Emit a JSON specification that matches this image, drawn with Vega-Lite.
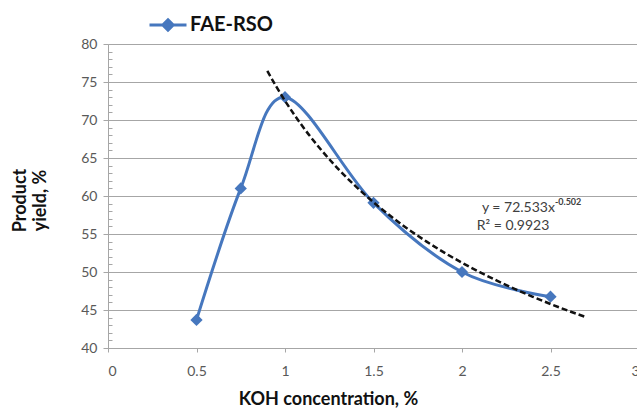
{
  "$schema": "https://vega.github.io/schema/vega-lite/v6.json",
  "width": 531,
  "height": 304,
  "autosize": {"type": "none"},
  "padding": {"left": 108, "top": 44, "right": 0, "bottom": 62},
  "background": "white",
  "config": {
    "font": "Lato",
    "view": {"stroke": null},
    "axis": {
      "domainColor": "#a6a6a6",
      "tickColor": "#a6a6a6",
      "labelColor": "#595959",
      "labelFontSize": 14,
      "titleColor": "#111111",
      "titleFontWeight": "bold"
    }
  },
  "resolve": {"axis": {"y": "independent"}},
  "datasets": {
    "yield": [
      {"koh": 0.5, "yield": 43.7, "series": "FAE-RSO"},
      {"koh": 0.75, "yield": 61.0, "series": "FAE-RSO"},
      {"koh": 1.0, "yield": 73.0, "series": "FAE-RSO"},
      {"koh": 1.5, "yield": 59.1, "series": "FAE-RSO"},
      {"koh": 2.0, "yield": 50.0, "series": "FAE-RSO"},
      {"koh": 2.5, "yield": 46.75, "series": "FAE-RSO"}
    ],
    "trend": [
      {"koh": 0.9, "fit": 76.47},
      {"koh": 0.95, "fit": 74.42},
      {"koh": 1.0, "fit": 72.53},
      {"koh": 1.1, "fit": 69.14},
      {"koh": 1.2, "fit": 66.19},
      {"koh": 1.3, "fit": 63.58},
      {"koh": 1.4, "fit": 61.26},
      {"koh": 1.5, "fit": 59.18},
      {"koh": 1.6, "fit": 57.29},
      {"koh": 1.7, "fit": 55.57},
      {"koh": 1.8, "fit": 54.0},
      {"koh": 1.9, "fit": 52.55},
      {"koh": 2.0, "fit": 51.22},
      {"koh": 2.1, "fit": 49.98},
      {"koh": 2.2, "fit": 48.83},
      {"koh": 2.3, "fit": 47.75},
      {"koh": 2.4, "fit": 46.74},
      {"koh": 2.5, "fit": 45.79},
      {"koh": 2.6, "fit": 44.9},
      {"koh": 2.7, "fit": 44.06}
    ],
    "note": [{"label": "fit"}]
  },
  "layer": [
    {
      "data": {"name": "yield"},
      "mark": {"type": "line", "interpolate": "cardinal", "strokeWidth": 3},
      "encoding": {
        "x": {
          "field": "koh",
          "type": "quantitative",
          "scale": {"domain": [0, 3], "nice": false},
          "axis": {
            "title": "KOH concentration, %",
            "titleFontSize": 18,
            "titleX": 220,
            "titleY": 51,
            "titleBaseline": "middle",
            "values": [0, 0.5, 1, 1.5, 2, 2.5, 3],
            "labelOverlap": false,
            "format": "~g",
            "grid": false,
            "tickSize": 4,
            "labelPadding": 12
          }
        },
        "y": {
          "field": "yield",
          "type": "quantitative",
          "scale": {"domain": [40, 80], "nice": false},
          "axis": {
            "title": ["Product", "yield, %"],
            "titleFontSize": 18,
            "titleLineHeight": 20,
            "titleAngle": -90,
            "titleX": -88,
            "titleY": 156,
            "titleAlign": "center",
            "titleBaseline": "middle",
            "values": [40, 45, 50, 55, 60, 65, 70, 75, 80],
            "format": "d",
            "tickSize": 5,
            "grid": true,
            "gridColor": "#a6a6a6",
            "gridWidth": 1,
            "gridOpacity": 1,
            "labelPadding": 6
          }
        },
        "color": {
          "field": "series",
          "type": "nominal",
          "scale": {"range": ["#4677be"]},
          "legend": {
            "title": null,
            "orient": "none",
            "legendX": 40,
            "legendY": -39,
            "symbolType": "M-1,0H1M0,-0.28L0.28,0L0,0.28L-0.28,0Z",
            "symbolSize": 1369,
            "symbolStrokeWidth": 3,
            "symbolFillColor": "#4677be",
            "symbolStrokeColor": "#4677be",
            "labelFontSize": 20,
            "labelFontWeight": "bold",
            "labelColor": "#111111",
            "labelOffset": 2
          }
        }
      }
    },
    {
      "data": {"name": "yield"},
      "mark": {"type": "point", "shape": "diamond", "filled": true, "size": 150, "color": "#4677be", "opacity": 1},
      "encoding": {
        "x": {"field": "koh", "type": "quantitative"},
        "y": {
          "field": "yield",
          "type": "quantitative",
          "axis": {
            "orient": "left",
            "title": null,
            "values": [40,41,42,43,44,45,46,47,48,49,50,51,52,53,54,55,56,57,58,59,60,61,62,63,64,65,66,67,68,69,70,71,72,73,74,75,76,77,78,79,80],
            "tickCount": 100,
            "labels": false,
            "domain": false,
            "grid": false,
            "tickSize": -4
          }
        }
      }
    },
    {
      "data": {"name": "trend"},
      "mark": {"type": "line", "color": "#111111", "strokeWidth": 2.5, "strokeDash": [6, 3], "interpolate": "monotone"},
      "encoding": {
        "x": {"field": "koh", "type": "quantitative"},
        "y": {"field": "fit", "type": "quantitative", "axis": null}
      }
    },
    {
      "data": {"name": "note"},
      "mark": {"type": "text", "align": "right", "baseline": "alphabetic", "fontSize": 14, "color": "#404040", "text": "y = 72.533x"},
      "encoding": {"x": {"datum": 2.525}, "y": {"datum": 57.9, "axis": null}}
    },
    {
      "data": {"name": "note"},
      "mark": {"type": "text", "align": "left", "baseline": "alphabetic", "fontSize": 9, "fontWeight": "bold", "color": "#404040", "dy": -7, "text": "-0.502"},
      "encoding": {"x": {"datum": 2.525}, "y": {"datum": 57.9, "axis": null}}
    },
    {
      "data": {"name": "note"},
      "mark": {"type": "text", "align": "center", "baseline": "alphabetic", "fontSize": 14, "color": "#404040", "text": "R² = 0.9923"},
      "encoding": {"x": {"datum": 2.288}, "y": {"datum": 55.53, "axis": null}}
    }
  ]
}
